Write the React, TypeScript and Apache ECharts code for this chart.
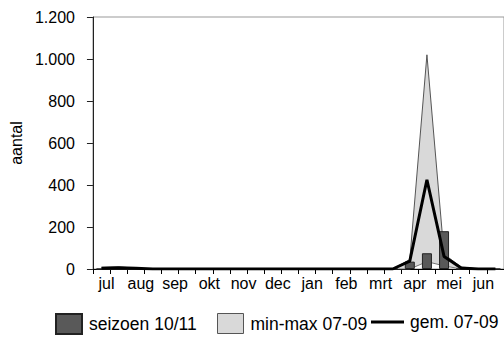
import React, { useEffect, useRef } from "react";
import * as echarts from "echarts";

const months = ["jul", "aug", "sep", "okt", "nov", "dec", "jan", "feb", "mrt", "apr", "mei", "jun"];
const halfMonths = months.flatMap((m) => [m + " 1", m + " 2"]);

// half-month values (24 entries: jul 1, jul 2, aug 1, ... jun 2)
const season1011 = [0, 0, 0, 0, 0, 0, 0, 0, 0, 0, 0, 0, 0, 0, 0, 0, 0, 0, 35, 75, 180, 0, 0, 0];
const min0709 = [0, 0, 0, 0, 0, 0, 0, 0, 0, 0, 0, 0, 0, 0, 0, 0, 0, 0, 0, 35, 15, 0, 0, 0];
const max0709 = [8, 10, 4, 0, 0, 0, 0, 0, 0, 0, 0, 0, 0, 0, 0, 0, 0, 0, 45, 1020, 70, 10, 0, 0];
const mean0709 = [3, 6, 3, 0, 0, 0, 0, 0, 0, 0, 0, 0, 0, 0, 0, 0, 0, 0, 38, 425, 60, 5, 0, 0];

const yTicks = [0, 200, 400, 600, 800, 1000, 1200];

const FONT = "Liberation Sans, Arial, sans-serif";

export default function App() {
  const ref = useRef<HTMLDivElement>(null);
  useEffect(() => {
    if (!ref.current) return;
    const chart = echarts.init(ref.current, undefined, { renderer: "svg" });
    const range = max0709.map((v, i) => v - min0709[i]);
    const legendText = { fontSize: 17.5, color: "#000", fontFamily: FONT, padding: [0, 0, 0, 2] };
    chart.setOption({
      animation: false,
      backgroundColor: "#fff",
      textStyle: { fontFamily: FONT },
      grid: {
        left: 91,
        top: 17,
        height: 252,
        width: 415,
        show: true,
        borderColor: "#999",
        borderWidth: 1,
        backgroundColor: "transparent",
      },
      xAxis: [
        {
          type: "category",
          data: halfMonths,
          boundaryGap: true,
          axisLine: { show: true, lineStyle: { color: "#000", width: 1 } },
          axisTick: { show: true, interval: 0, length: 5, lineStyle: { color: "#000" } },
          axisLabel: { show: false },
          splitLine: { show: false },
        },
        {
          type: "category",
          data: months,
          position: "bottom",
          offset: 0,
          boundaryGap: true,
          axisLine: { show: false },
          axisTick: { show: false },
          axisLabel: {
            show: true,
            interval: 0,
            margin: 6,
            fontSize: 16,
            color: "#000",
            fontFamily: FONT,
            padding: [0, 7, 0, 0],
          },
          splitLine: { show: false },
        },
      ],
      yAxis: {
        type: "value",
        min: yTicks[0],
        max: yTicks[yTicks.length - 1],
        interval: 200,
        name: "aantal",
        nameLocation: "middle",
        nameRotate: 90,
        nameGap: 66,
        nameTextStyle: { fontSize: 16, color: "#000", fontFamily: FONT },
        axisLine: { show: true, lineStyle: { color: "#222", width: 1 } },
        axisTick: { show: true, length: 6, lineStyle: { color: "#222" } },
        axisLabel: {
          margin: 18,
          fontSize: 16,
          color: "#000",
          fontFamily: FONT,
          formatter: (v: number) => (v >= 1000 ? Math.floor(v / 1000) + "." + String(v % 1000).padStart(3, "0") : String(v)),
        },
        splitLine: { show: false },
      },
      legend: [
        {
          left: 55,
          top: 313,
          padding: 0,
          itemWidth: 26,
          itemHeight: 20,
          textStyle: legendText,
          data: [{ name: "seizoen 10/11", icon: "rect" }],
        },
        {
          left: 217,
          top: 313,
          padding: 0,
          itemWidth: 26,
          itemHeight: 20,
          textStyle: legendText,
          data: [
            {
              name: "min-max 07-09",
              icon: "rect",
              itemStyle: { color: "#d9d9d9", borderColor: "#555", borderWidth: 1 },
            },
          ],
        },
        {
          left: 371,
          top: 313,
          padding: 0,
          itemWidth: 33,
          itemHeight: 3,
          textStyle: { ...legendText, padding: [0, 0, 0, 1] },
          data: [{ name: "gem. 07-09", icon: "rect", itemStyle: { color: "#000" } }],
        },
      ],
      series: [
        {
          name: "min",
          type: "line",
          stack: "mm",
          data: min0709,
          symbol: "none",
          lineStyle: { color: "#777", width: 1 },
          areaStyle: { opacity: 0 },
          z: 1,
          silent: true,
        },
        {
          name: "min-max 07-09",
          type: "line",
          stack: "mm",
          data: range,
          symbol: "none",
          itemStyle: { color: "#d9d9d9" },
          lineStyle: { color: "#555", width: 1 },
          areaStyle: { color: "#d9d9d9", opacity: 1 },
          z: 1,
        },
        {
          name: "seizoen 10/11",
          type: "bar",
          data: season1011,
          barWidth: 10,
          itemStyle: { color: "#595959", borderColor: "#222", borderWidth: 1 },
          z: 2,
        },
        {
          name: "gem. 07-09",
          type: "line",
          data: mean0709,
          symbol: "none",
          itemStyle: { color: "#000" },
          lineStyle: { color: "#000", width: 3 },
          z: 3,
        },
      ],
    });
    return () => chart.dispose();
  }, []);
  return (
    <div
      ref={ref}
      style={{ position: "fixed", left: 0, top: 0, width: 504, height: 337, background: "#fff" }}
    />
  );
}
